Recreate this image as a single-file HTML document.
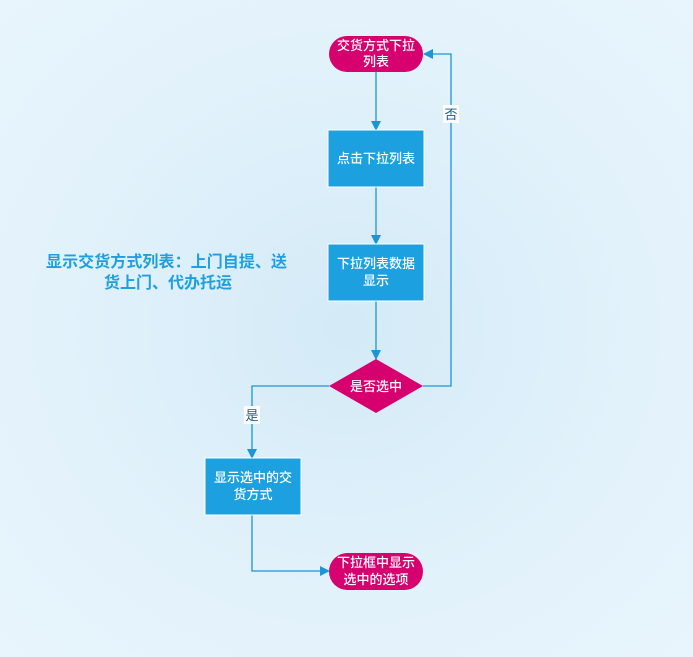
<!DOCTYPE html>
<html><head><meta charset="utf-8"><style>
body{margin:0;width:693px;height:657px;overflow:hidden;background:radial-gradient(ellipse at 50% 50%,#d4eaf7 0%,#e2f2fb 60%,#e8f5fc 100%);font-family:"Liberation Sans","Noto Sans CJK SC",sans-serif;}
svg{position:absolute;left:0;top:0}
.t{font-size:13px;fill:#fff;text-anchor:middle;font-weight:500}
</style></head><body>
<svg width="693" height="657" xmlns="http://www.w3.org/2000/svg">
<defs><marker id="a" markerWidth="10" markerHeight="10" refX="9" refY="5" orient="auto" markerUnits="userSpaceOnUse"><path d="M0,0 L10,5 L0,10 Z" fill="#1a96d4"/></marker></defs>
<g stroke="#1a96d4" stroke-width="1.3" fill="none">
<path d="M376,72 V130" marker-end="url(#a)"/>
<path d="M376,187 V244" marker-end="url(#a)"/>
<path d="M376,301 V359" marker-end="url(#a)"/>
<path d="M423,386 H451 V54 H424" marker-end="url(#a)"/>
<path d="M329,386 H252 V458" marker-end="url(#a)"/>
<path d="M252,515 V571 H329" marker-end="url(#a)"/>
</g>
<rect x="329" y="36" width="94" height="36" rx="18" fill="#d6006f"/>
<text class="t" x="376" y="50">交货方式下拉</text><text class="t" x="376" y="66">列表</text>
<rect x="328" y="130" width="96" height="57" fill="#1ca0e0" stroke="#fff" stroke-width="1"/>
<text class="t" x="376" y="163">点击下拉列表</text>
<rect x="328" y="244" width="96" height="57" fill="#1ca0e0" stroke="#fff" stroke-width="1"/>
<text class="t" x="376" y="268">下拉列表数据</text><text class="t" x="376" y="285">显示</text>
<path d="M376,359 L423,386 L376,413 L329,386 Z" fill="#d6006f"/>
<text class="t" x="376" y="391">是否选中</text>
<rect x="205" y="458" width="96" height="57" fill="#1ca0e0" stroke="#fff" stroke-width="1"/>
<text class="t" x="253" y="482">显示选中的交</text><text class="t" x="253" y="499">货方式</text>
<rect x="329" y="553" width="94" height="37" rx="18.5" fill="#d6006f"/>
<text class="t" x="376" y="567">下拉框中显示</text><text class="t" x="376" y="584">选中的选项</text>
<rect x="443" y="105" width="16" height="18" fill="#fff"/>
<text x="451" y="119" font-size="13" fill="#1a5a8a" text-anchor="middle">否</text>
<rect x="244" y="406" width="16" height="18" fill="#fff"/>
<text x="252" y="420" font-size="13" fill="#1a5a8a" text-anchor="middle">是</text>
<text x="46" y="267" font-size="16" font-weight="bold" fill="#1ea0e0" textLength="241">显示交货方式列表：上门自提、送</text>
<text x="104" y="288" font-size="16" font-weight="bold" fill="#1ea0e0">货上门、代办托运</text>
</svg>
</body></html>
